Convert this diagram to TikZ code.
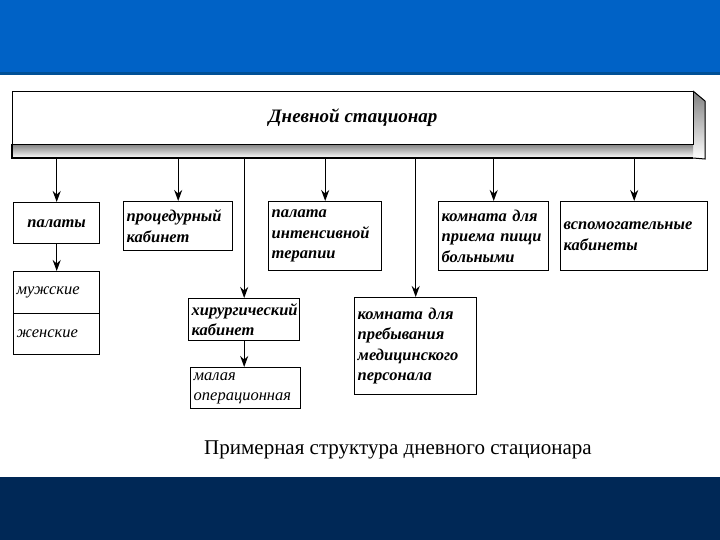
\documentclass[tikz,border=0pt]{standalone}
\usepackage{fontspec}
\setmainfont{Liberation Serif}
\usetikzlibrary{arrows.meta}
\definecolor{topblue}{RGB}{0,98,198}
\definecolor{topline}{RGB}{0,80,150}
\definecolor{navy}{RGB}{0,40,86}
\definecolor{shade}{RGB}{110,110,110}
\begin{document}
\begin{tikzpicture}[x=1pt,y=-1pt,
  box/.style={draw, line width=1.4pt, fill=white, inner xsep=3pt, inner ysep=1pt,
    font=\fontsize{16.5}{20.5}\selectfont\bfseries\itshape, align=left, anchor=north west},
  lbox/.style={box, font=\fontsize{16.5}{20}\selectfont\itshape},
  arr/.style={line width=1.3pt, -{Stealth[length=11pt,width=8pt]}}]
\useasboundingbox (0,0) rectangle (720,540);
% bands
\fill[topblue] (0,0) rectangle (720,74);
\fill[topline] (0,72) rectangle (720,75);
\fill[navy] (0,477) rectangle (720,540);
% main bar
\fill[shade] (693,91) -- (705,101) -- (705,159) -- (693,158) -- cycle;
\draw[line width=1pt] (693,91) -- (705,101) -- (705,159) -- (693,158);
\fill[shade] (12,144) rectangle (693,158);
\node[draw, line width=1.2pt, fill=white, minimum width=681pt, minimum height=53pt, anchor=north west,
  font=\fontsize{19}{22}\selectfont\bfseries\itshape] (bar) at (12,91) {Дневной стационар};
\draw[line width=1.2pt] (12,144) -- (12,158) -- (693,158);
\coordinate (barb) at (0,158);
% boxes
\node[box, minimum width=86pt, minimum height=41pt, align=center] (pal) at (13,202) {палаты};
\node[lbox, text width=80pt, minimum height=42pt] (muzh) at (13,271) {мужские};
\node[lbox, text width=80pt, minimum height=41pt] (zhen) at (13,313) {женские};
\node[box, text width=103pt, minimum height=49pt] (proc) at (123,201) {процедурный\\кабинет};
\node[box, text width=107pt, minimum height=69pt] (pit) at (268,201) {палата\\интенсивной\\терапии};
\node[box, text width=104pt, minimum height=69pt] (pish) at (438,201) {комната~для\\приема~пищи\\больными};
\node[box, text width=141pt, minimum height=69pt] (vsp) at (560,201) {вспомогательные\\кабинеты};
\node[box, text width=105pt, minimum height=42pt] (hir) at (188,298) {хирургический\\кабинет};
\node[lbox, text width=104pt, minimum height=41pt] (mal) at (190,367) {малая\\операционная};
\node[box, text width=116pt, minimum height=97pt] (pers) at (354,297) {комната~для\\пребывания\\медицинского\\персонала};
% caption
\node[font=\fontsize{21}{24}\selectfont] (cap) at (398,450) {Примерная структура дневного стационара};
% connectors
\foreach \b in {pal,proc,pit,pish,vsp,hir,pers}
  \draw[arr] (barb -| \b.north) -- (\b.north);
\draw[arr] (pal.south) -- (pal.south |- muzh.north);
\draw[arr] (hir.south) -- (hir.south |- mal.north);
\end{tikzpicture}
\end{document}
